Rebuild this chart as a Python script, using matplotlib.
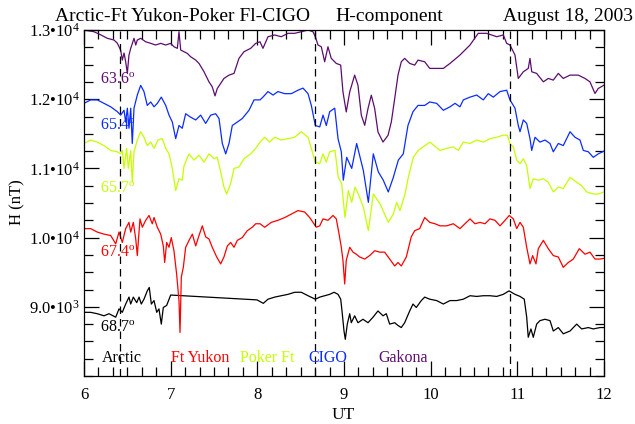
import matplotlib
matplotlib.use("Agg")
import matplotlib.pyplot as plt
from matplotlib.ticker import MultipleLocator, FixedLocator, FixedFormatter

plt.rcParams['font.family'] = ['Liberation Serif', 'DejaVu Serif']
plt.rcParams['mathtext.fontset'] = 'custom'
plt.rcParams['mathtext.rm'] = 'Liberation Serif'
plt.rcParams['mathtext.it'] = 'Liberation Serif:italic'

# UT hours and H (nT), one pair of lists per station
gak_t = [6.000, 6.115, 6.193, 6.269, 6.346, 6.384, 6.423, 6.442, 6.462, 6.481, 6.500, 6.519, 6.539,
         6.577, 6.597, 6.615, 6.654, 6.712, 6.770, 6.827, 6.885, 6.943, 7.000, 7.038, 7.077, 7.096,
         7.116, 7.154, 7.192, 7.231, 7.289, 7.327, 7.385, 7.442, 7.480, 7.512, 7.538, 7.577, 7.615,
         7.673, 7.731, 7.788, 7.846, 7.923, 7.981, 8.031, 8.065, 8.123, 8.200, 8.276, 8.354, 8.431,
         8.507, 8.585, 8.642, 8.669, 8.700, 8.738, 8.777, 8.815, 8.853, 8.911, 8.962, 8.988, 9.026,
         9.066, 9.123, 9.161, 9.200, 9.239, 9.277, 9.315, 9.354, 9.392, 9.450, 9.508, 9.546, 9.585,
         9.623, 9.661, 9.700, 9.758, 9.816, 9.854, 9.931, 9.989, 10.038, 10.146, 10.223, 10.338,
         10.454, 10.549, 10.646, 10.762, 10.838, 10.877, 10.915, 10.973, 11.011, 11.069, 11.126,
         11.146, 11.166, 11.223, 11.300, 11.357, 11.415, 11.473, 11.530, 11.608, 11.703, 11.781,
         11.838, 11.896, 11.934, 12.000]
gak_h = [13000, 12975, 12930, 12880, 12855, 12810, 12710, 12565, 12667, 12541, 12373, 12638, 12735,
         12880, 12783, 12855, 12880, 12830, 12807, 12783, 12807, 12783, 12807, 12758, 12735, 12975,
         12710, 12686, 12662, 12613, 12565, 12517, 12396, 12251, 12178, 12048, 12155, 12228, 12300,
         12348, 12373, 12590, 12686, 12735, 12807, 12830, 12735, 12903, 12928, 12903, 12952, 12952,
         12975, 13000, 12975, 12903, 12783, 12758, 12541, 12758, 12590, 12517, 12493, 12106, 11816,
         12106, 12348, 12203, 11768, 11623, 11865, 12058, 11865, 11526, 11381, 11478, 11671, 12010,
         12348, 12541, 12590, 12517, 12493, 12565, 12541, 12445, 12445, 12445, 12517, 12638,
         12783, 12952, 12952, 12903, 12928, 12807, 12783, 12638, 12300, 12396, 12445,
         12590, 12396, 12373, 12251, 12300, 12276, 12373, 12300, 12348, 12348, 12300,
         12251, 12083, 12155, 12203]

cig_t = [6.000, 6.077, 6.153, 6.231, 6.308, 6.384, 6.423, 6.462, 6.481, 6.500, 6.519, 6.539, 6.557,
         6.577, 6.615, 6.654, 6.692, 6.730, 6.770, 6.808, 6.846, 6.892, 6.943, 6.981, 7.019, 7.058,
         7.096, 7.134, 7.173, 7.231, 7.289, 7.346, 7.404, 7.462, 7.519, 7.558, 7.596, 7.635, 7.673,
         7.711, 7.769, 7.826, 7.904, 7.962, 8.031, 8.065, 8.123, 8.181, 8.238, 8.316, 8.392, 8.469,
         8.527, 8.585, 8.623, 8.669, 8.720, 8.758, 8.796, 8.835, 8.893, 8.931, 8.969, 8.992, 9.031,
         9.089, 9.146, 9.223, 9.281, 9.338, 9.396, 9.453, 9.511, 9.569, 9.627, 9.684, 9.738, 9.796,
         9.854, 9.931, 9.989, 10.069, 10.146, 10.223, 10.281, 10.338, 10.377, 10.454, 10.531,
         10.607, 10.665, 10.723, 10.800, 10.877, 10.915, 10.973, 11.011, 11.031, 11.069, 11.108,
         11.146, 11.166, 11.204, 11.261, 11.319, 11.377, 11.415, 11.473, 11.530, 11.608, 11.665,
         11.723, 11.761, 11.819, 11.876, 11.934, 12.000]
cig_h = [11940, 11990, 11990, 11940, 11890, 11820, 11770, 11840, 11670, 11870, 11580, 11870, 11360,
         11870, 12060, 12200, 12110, 11910, 11960, 11890, 11940, 12030, 11910, 11770, 11670, 11430,
         11620, 11580, 11790, 11740, 11700, 11770, 11650, 11770, 11790, 11720, 11360, 11210, 11360,
         11620, 11670, 11720, 11840, 11990, 11990, 12030, 12110, 12060, 12110, 12080, 12080, 12130,
         12160, 12080, 11910, 11620, 11600, 11770, 11620, 11820, 11870, 11430, 11240, 10830, 11160,
         11000, 11360, 10970, 10510, 11210, 10950, 10830, 10660, 10870, 11120, 11210, 11620, 11820,
         11910, 11910, 11960, 11940, 11840, 11890, 11940, 11890, 11990, 12030, 12060,
         11990, 12080, 12030, 12110, 12130, 11990, 11870, 11620, 11530, 11700, 11650,
         11430, 11260, 11450, 11380, 11410, 11360, 11240, 11360, 11330, 11530, 11450,
         11410, 11260, 11240, 11160, 11210, 11250]

pok_t = [6.000, 6.077, 6.153, 6.231, 6.308, 6.384, 6.423, 6.442, 6.462, 6.492, 6.511, 6.539, 6.557,
         6.577, 6.615, 6.654, 6.692, 6.730, 6.770, 6.808, 6.854, 6.903, 6.943, 6.981, 7.019, 7.058,
         7.096, 7.134, 7.154, 7.212, 7.269, 7.327, 7.385, 7.442, 7.500, 7.538, 7.577, 7.615, 7.646,
         7.692, 7.731, 7.788, 7.846, 7.923, 7.981, 8.031, 8.085, 8.142, 8.200, 8.276, 8.354, 8.431,
         8.507, 8.585, 8.623, 8.669, 8.720, 8.758, 8.796, 8.835, 8.896, 8.934, 8.973, 9.011, 9.050,
         9.089, 9.127, 9.165, 9.223, 9.281, 9.338, 9.415, 9.511, 9.569, 9.608, 9.646, 9.704, 9.742,
         9.800, 9.857, 9.934, 9.992, 10.108, 10.185, 10.261, 10.319, 10.377, 10.454, 10.531, 10.607,
         10.684, 10.762, 10.838, 10.884, 10.915, 10.954, 10.993, 11.031, 11.069, 11.108, 11.146,
         11.184, 11.242, 11.300, 11.357, 11.415, 11.473, 11.530, 11.608, 11.685, 11.742, 11.800,
         11.876, 11.934, 12.000]
pok_h = [11360, 11410, 11380, 11330, 11260, 11240, 11210, 11260, 11000, 11290, 11000, 11260, 10800,
         11240, 11410, 11530, 11450, 11330, 11380, 11290, 11410, 11430, 11290, 11210, 11000, 10680,
         10850, 10830, 11040, 11210, 11120, 11190, 11090, 11210, 11140, 11160, 10950, 10730, 10630,
         10780, 11000, 11020, 11140, 11210, 11290, 11380, 11450, 11380, 11450, 11410, 11430, 11450,
         11530, 11450, 11290, 11090, 11070, 11210, 11090, 11240, 11260, 10870, 10780, 10290, 10680,
         10510, 10730, 10630, 10440, 10100, 10630, 10490, 10220, 10340, 10510, 10390, 10630, 10870,
         11160, 11260, 11330, 11380, 11260, 11290, 11310, 11260, 11380, 11360, 11410, 11380,
         11430, 11450, 11480, 11480, 11360, 11310, 11120, 11070, 11140, 11040, 10710,
         10850, 10830, 10850, 10800, 10660, 10730, 10710, 10870, 10800, 10750, 10660,
         10630, 10630, 10660]

fty_t = [6.000, 6.077, 6.153, 6.231, 6.308, 6.366, 6.404, 6.442, 6.481, 6.519, 6.539, 6.569, 6.597,
         6.615, 6.646, 6.673, 6.712, 6.750, 6.788, 6.808, 6.846, 6.885, 6.915, 6.931, 6.954, 6.981,
         7.007, 7.038, 7.069, 7.096, 7.108, 7.123, 7.146, 7.173, 7.212, 7.250, 7.289, 7.327, 7.365,
         7.404, 7.442, 7.480, 7.531, 7.577, 7.615, 7.654, 7.692, 7.731, 7.769, 7.826, 7.884, 7.942,
         7.981, 8.031, 8.085, 8.161, 8.238, 8.316, 8.392, 8.469, 8.546, 8.604, 8.642, 8.680, 8.720,
         8.758, 8.815, 8.873, 8.911, 8.939, 8.969, 8.988, 9.008, 9.026, 9.066, 9.104, 9.142, 9.181,
         9.239, 9.296, 9.354, 9.412, 9.469, 9.527, 9.585, 9.623, 9.661, 9.719, 9.776, 9.816, 9.873,
         9.931, 9.989, 10.050, 10.108, 10.185, 10.261, 10.338, 10.396, 10.454, 10.511, 10.569,
         10.627, 10.684, 10.742, 10.800, 10.858, 10.907, 10.954, 10.993, 11.031, 11.069, 11.108,
         11.146, 11.177, 11.215, 11.242, 11.300, 11.357, 11.415, 11.473, 11.530, 11.588, 11.646,
         11.715, 11.781, 11.838, 11.896, 11.954, 12.000]
fty_h = [10130, 10130, 10080, 10050, 10030, 9910, 10080, 9930, 10130, 10220, 10080, 10220, 9980,
         9740, 10270, 10150, 10250, 10320, 10200, 10290, 10150, 10050, 9880, 9640, 9930, 9860,
         10000, 9810, 9470, 9090, 8630, 9430, 9570, 9860, 9960, 10050, 9880, 10030, 10170,
         10010, 9980, 9860, 9720, 9620, 9720, 9880, 9930, 9860, 9960, 10000, 10100, 10150,
         10200, 10200, 10150, 10220, 10250, 10290, 10340, 10390, 10370, 10290, 10220, 10150, 10170,
         10270, 10250, 10320, 10270, 10080, 9860, 9670, 9330, 9670, 9860, 9790, 9760, 9720,
         9690, 9740, 9810, 9790, 9790, 9690, 9590, 9640, 9590, 9720, 10010, 10100, 10130,
         10290, 10220, 10200, 10170, 10170, 10200, 10130, 10200, 10270, 10200, 10220,
         10200, 10270, 10250, 10170, 10250, 10320, 10270, 10130, 10220, 10150, 9860,
         9620, 9740, 9620, 9840, 9960, 9840, 9740, 9720, 9570, 9640, 9690,
         9840, 9760, 9790, 9690, 9690, 9700]

arc_t = [6.000, 6.077, 6.153, 6.231, 6.288, 6.366, 6.404, 6.442, 6.481, 6.519, 6.539, 6.569, 6.608,
         6.635, 6.661, 6.692, 6.730, 6.753, 6.777, 6.808, 6.839, 6.865, 6.892, 6.915, 6.954, 7.000,
         7.996, 8.069, 8.123, 8.200, 8.276, 8.354, 8.431, 8.507, 8.585, 8.669, 8.720, 8.777, 8.835,
         8.885, 8.931, 8.962, 8.977, 9.000, 9.015, 9.038, 9.066, 9.084, 9.123, 9.161, 9.219, 9.277,
         9.335, 9.392, 9.450, 9.488, 9.527, 9.585, 9.623, 9.661, 9.700, 9.758, 9.796, 9.834, 9.892,
         9.931, 9.989, 10.069, 10.146, 10.223, 10.300, 10.377, 10.454, 10.531, 10.607, 10.684,
         10.762, 10.838, 10.904, 10.973, 11.031, 11.080, 11.108, 11.126, 11.157, 11.184, 11.223,
         11.261, 11.319, 11.377, 11.415, 11.473, 11.530, 11.608, 11.685, 11.742, 11.819, 11.876,
         11.954, 12.000]
arc_h = [8920, 8920, 8900, 8870, 8900, 8850, 8970, 8920, 9040, 9140, 9040, 9140, 9060,
         9140, 9040, 9110, 9230, 9280, 9040, 9090, 8920, 8970, 8750, 8990, 9020, 9170,
         9100, 9050, 9110, 9140, 9160, 9180, 9210, 9210, 9160, 9110, 9140, 9160, 9180,
         9210, 9180, 9110, 8940, 8650, 8530, 8750, 8900, 8770, 8870, 8770, 8820, 8770,
         8850, 8940, 8870, 8900, 8750, 8770, 8730, 8700, 8770, 8940, 9040, 8990, 9090,
         9140, 9110, 9090, 9040, 9090, 9090, 9110, 9160, 9150, 9160, 9160,
         9150, 9180, 9230, 9180, 9150, 9110, 8850, 8560, 8680, 8560, 8750,
         8800, 8820, 8800, 8650, 8700, 8610, 8650, 8750, 8680, 8700, 8680,
         8700, 8700]

stations = ['Arctic', 'Ft Yukon', 'Poker Ft', 'CIGO', 'Gakona']
latitudes = ['68.7', '67.4', '65.7', '65.4', '63.6']
colors = ['black', '#ff0000', '#c4ff00', '#0a2cff', '#5c0d6e']
dash_times = [6.42, 8.67, 10.91]
ytick_vals = [9000, 10000, 11000, 12000, 13000]
ytick_text = ['9.0\u202210$^{\\mathrm{3}}$', '1.0\u202210$^{\\mathrm{4}}$', '1.1\u202210$^{\\mathrm{4}}$',
              '1.2\u202210$^{\\mathrm{4}}$', '1.3\u202210$^{\\mathrm{4}}$']

fig = plt.figure(figsize=(6.35, 4.24), dpi=100)
ax = fig.add_axes([84 / 635, 1 - 376 / 424, 520 / 635, 346 / 424])

series = [(arc_t, arc_h), (fty_t, fty_h), (pok_t, pok_h), (cig_t, cig_h), (gak_t, gak_h)]
for (t, h), c in zip(series, colors):
    ax.plot(t, h, color=c, lw=0.9)

for tt in dash_times:
    ax.axvline(tt, color='black', lw=0.9, ls=(0, (6, 4)))

ax.set_xlim(6, 12)
ax.set_ylim(8000, 13000)
ax.xaxis.set_major_locator(MultipleLocator(1))
ax.xaxis.set_minor_locator(MultipleLocator(1 / 6))
ax.yaxis.set_major_locator(FixedLocator(ytick_vals))
ax.yaxis.set_major_formatter(FixedFormatter(ytick_text))
ax.yaxis.set_minor_locator(MultipleLocator(250))
ax.tick_params(which='both', direction='in', top=True, right=True, width=0.9)
ax.tick_params(which='major', length=11, labelsize=12)
ax.tick_params(axis='x', which='major', pad=8)
ax.tick_params(axis='y', which='major', pad=3)
ax.tick_params(which='minor', length=6.5)
for sp in ax.spines.values():
    sp.set_linewidth(0.9)

# latitude labels next to each trace
lat_y = [8700, 9780, 10700, 11610, 12275]
for lat, ly, c in zip(latitudes, lat_y, colors):
    ax.text(6.18, ly, lat + '$^{\\mathrm{o}}$', color=c, fontsize=11.5, va='center', ha='left')

# station names along the bottom
st_x = [6.208, 7.004, 7.80, 8.585, 9.392]
for name, sx, c in zip(stations, st_x, colors):
    ax.text(sx, 8262, name, color=c, fontsize=11.5, va='center', ha='left')

fig.text(55 / 635, 1 - 21 / 424, 'Arctic-Ft Yukon-Poker Fl-CIGO', fontsize=14, va='baseline')
fig.text(335 / 635, 1 - 21 / 424, 'H-component', fontsize=14, va='baseline')
fig.text(503 / 635, 1 - 21 / 424, 'August 18, 2003', fontsize=14, va='baseline')
fig.text(17.5 / 635, 1 - 202 / 424, 'H (nT)', fontsize=12, rotation=90, va='center', ha='center')
fig.text(343.5 / 635, 1 - 419 / 424, 'UT', fontsize=12.5, va='baseline', ha='center')

fig.savefig('out.png', dpi=100)
